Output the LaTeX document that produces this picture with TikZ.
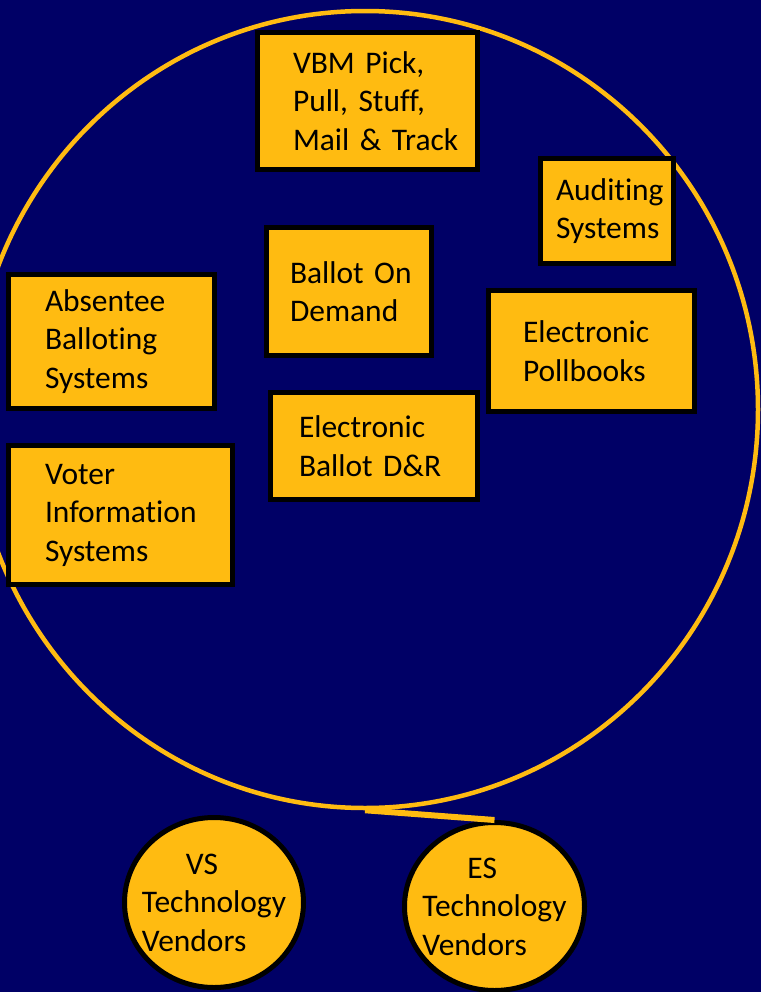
\documentclass[tikz,border=0pt]{standalone}
\usepackage{fontspec}
\setmainfont{Carlito}[Ligatures=NoCommon]
\usetikzlibrary{shapes.geometric}

\newlength{\unitpx}
\setlength{\unitpx}{0.75pt}
\definecolor{navyback}{RGB}{0,0,102}
\definecolor{goldfill}{RGB}{255,187,17}

\begin{document}
\begin{tikzpicture}[x=0.75pt,y=-0.75pt,
    sys box/.style={rectangle,draw=black,line width=5\unitpx,fill=goldfill,
      align=left,inner ysep=0pt,font=\fontsize{23.6pt}{28.9pt}\selectfont},
    vendor node/.style={ellipse,draw=black,line width=5\unitpx,fill=goldfill,
      align=left,inner xsep=-15\unitpx,inner ysep=0pt,
      font=\fontsize{23.6pt}{28.9pt}\selectfont}]

    % background
    \fill[navyback] (0,0) rectangle (761,992);
    \useasboundingbox (0,0) rectangle (761,992);
    \clip (0,0) rectangle (761,992);

    \node[ellipse,draw=goldfill,line width=4.5\unitpx,
      minimum width=786\unitpx,minimum height=797\unitpx] (field) at (365,409.5) {};

    % systems
    \node[sys box,minimum width=220\unitpx,minimum height=137\unitpx,
      text width=149\unitpx,inner xsep=35.5\unitpx] (vbm) at (367.5,101)
      {VBM~Pick,\\Pull,~Stuff,\\Mail~\&~Track};
    \node[sys box,minimum width=133\unitpx,minimum height=105\unitpx,
      text width=102\unitpx,inner xsep=15.5\unitpx] (audit) at (607,211)
      {Auditing\\Systems};
    \node[sys box,minimum width=165\unitpx,minimum height=128\unitpx,
      text width=118\unitpx,inner xsep=23.5\unitpx] (bod) at (349,291.5)
      {Ballot~On\\Demand};
    \node[sys box,minimum width=206\unitpx,minimum height=134\unitpx,
      text width=133\unitpx,inner xsep=36.5\unitpx] (absentee) at (111.5,341.5)
      {Absentee\\Balloting\\Systems};
    \node[sys box,minimum width=206\unitpx,minimum height=121\unitpx,
      text width=137\unitpx,inner xsep=34.5\unitpx] (pollbook) at (591.5,351)
      {Electronic\\Pollbooks};
    \node[sys box,minimum width=207\unitpx,minimum height=107\unitpx,
      text width=150\unitpx,inner xsep=28.5\unitpx] (ebdr) at (374,446)
      {Electronic\\Ballot~D\&R};
    \node[sys box,minimum width=224\unitpx,minimum height=139\unitpx,
      text width=151\unitpx,inner xsep=36.5\unitpx] (voterinfo) at (120.5,515)
      {Voter\\Information\\Systems};

    % vendors
    \node[vendor node,minimum width=179\unitpx,minimum height=170\unitpx]
      (vsvendors) at (214,902.5) {\hspace*{44\unitpx}VS\\Technology\\Vendors};
    \node[vendor node,minimum width=180\unitpx,minimum height=168\unitpx]
      (esvendors) at (494.5,906.5) {\hspace*{45\unitpx}ES\\Technology\\Vendors};

    \draw[goldfill,line width=6\unitpx] (field.south) -- (esvendors.north);
\end{tikzpicture}
\end{document}
